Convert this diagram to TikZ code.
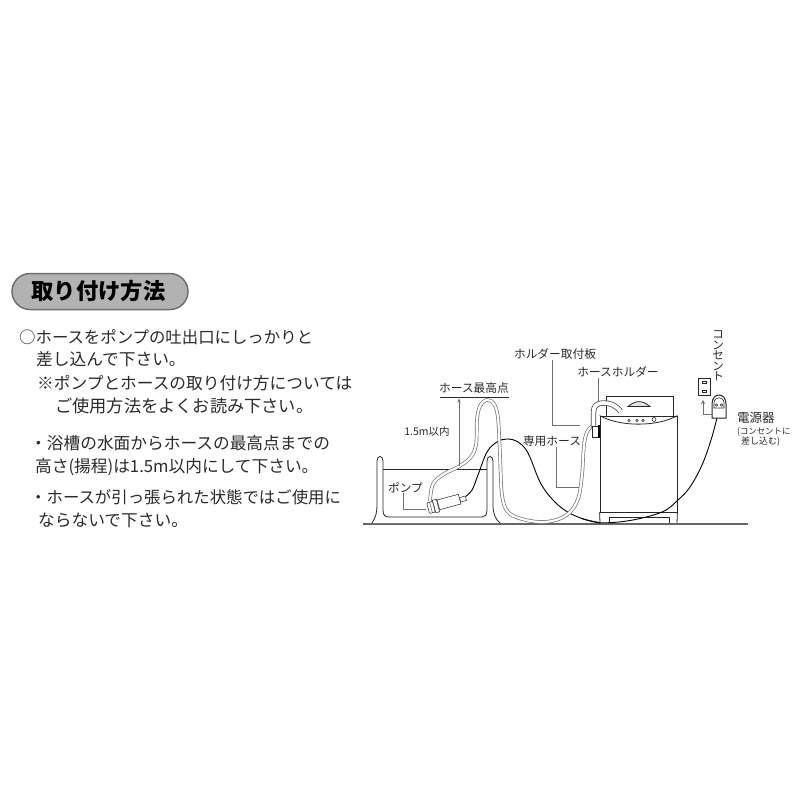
\documentclass[tikz,border=0pt]{standalone}
\usepackage{fontspec}
\setmainfont{Noto Sans CJK JP}
\usetikzlibrary{arrows.meta}
\definecolor{inkdark}{HTML}{2A2A2A}
\definecolor{leadgray}{HTML}{707070}
\tikzstyle{titlepill} = [draw=leadgray, fill=black!30, line width=1.5pt, rectangle,
    rounded corners=18pt, minimum width=176pt, minimum height=36pt]
\tikzstyle{bodyline} = [anchor=west, inner sep=0pt, text=inkdark, font=\fontsize{16.7}{17}\selectfont]
\tikzstyle{tag} = [inner sep=0pt, text=inkdark, font=\fontsize{11.7}{12}\selectfont]
\tikzstyle{leader} = [draw=leadgray, line width=0.7pt]
\tikzstyle{outline} = [draw=black!85, line width=0.8pt]
\tikzstyle{pumppart} = [draw=black!80, fill=white, line width=0.55pt, rotate=15, inner sep=0pt]
\tikzstyle{hoseout} = [draw=black!55, line width=3.6pt]
\tikzstyle{hosein} = [draw=white, line width=2.2pt]
\tikzstyle{cord} = [draw=black, line width=0.9pt]
\def\hosepath{plot[smooth, tension=0.6] coordinates {(430,501) (433,484) (444,474) (458,467) (470,458)
    (476,445) (477,420) (480,406) (487,400) (494,404) (498,418) (500,455) (502,495) (508,512)
    (522,519) (540,522) (556,520) (569,513) (578,499) (582,475) (584,445) (587,432) (592,426)}}
\def\tubepath{(593.5,428) -- (593.5,412) .. controls (593.5,406) and (597,403) .. (603,403)
    .. controls (610,403) and (616,405) .. (620.5,411.5)}
\begin{document}
\begin{tikzpicture}[x=1pt, y=-1pt]
    \useasboundingbox[fill=white] (0,0) rectangle (800,800);
    % heading and text on the left
    \node [titlepill] (title) at (100,291.5) {};
    \node [font=\fontsize{22.3}{23}\selectfont\bfseries, text=black, inner sep=0pt] (titletext) at (98.5,291) {取り付け方法};
    \node [bodyline, font=\fontsize{16.4}{17}\selectfont] (line1) at (19,337) {○ホースをポンプの吐出口にしっかりと};
    \node [bodyline] (line2) at (36,359.5) {差し込んで下さい。};
    \node [bodyline] (line3) at (37,383) {※ポンプとホースの取り付け方については};
    \node [bodyline, font=\fontsize{17.2}{18}\selectfont] (line4) at (55,405.5) {ご使用方法をよくお読み下さい。};
    \node [bodyline] (line5) at (30,443) {・浴槽の水面からホースの最高点までの};
    \node [bodyline] (line6) at (35,467) {高さ(揚程)は1.5m以内にして下さい。};
    \node [bodyline, font=\fontsize{16.4}{17}\selectfont] (line7) at (30,497) {・ホースが引っ張られた状態ではご使用に};
    \node [bodyline] (line8) at (38,520) {ならないで下さい。};
    % floor and tub
    \draw [draw=black!60, line width=2pt] (363,523.7) -- (748,523.7);
    \draw [outline, fill=white] (372,523) .. controls (376,517) and (377,512) .. (377,505) -- (377,461)
        .. controls (377,455) and (383,455) .. (383,461) -- (383,510)
        .. controls (383,515) and (385,517) .. (389,517) -- (482,517)
        .. controls (485,517) and (487,515) .. (487,510) -- (487,461)
        .. controls (487,455) and (493,455) .. (493,461) -- (493,505)
        .. controls (493,513) and (495,519) .. (500,523);
    \draw [outline] (383,469) -- (487,469);
    % power cord
    \draw [cord] plot[smooth, tension=0.6] coordinates {(465,497) (472,490) (478,475) (487,452) (497,442)
        (507,439) (518,442) (528,453) (540,482) (552,499) (566,511) (582,518.5) (600,522.7)};
    % hose
    \draw [hoseout] \hosepath;
    \draw [hosein] \hosepath;
    % pump
    \node [pumppart, minimum width=6pt, minimum height=4.5pt] (pumpneck) at (463,499) {};
    \node [pumppart, minimum width=22pt, minimum height=10pt] (pumpbody) at (449,502) {};
    \node [pumppart, minimum width=4pt, minimum height=13pt] (pumpcap) at (436,506) {};
    \node [pumppart, minimum width=6pt, minimum height=11pt, rounded corners=1pt] (pumphead) at (431,507.5) {};
    \draw [draw=black!80, line width=0.4pt] (pumphead.north) -- (pumphead.south);
    % washing machine
    \draw [outline, fill=white] (606,416) -- (606,396) -- (673,396) -- (673,416);
    \draw [outline, fill=black!10] (628,406.5) .. controls (636,400) and (642,400) .. (650,406.5) -- cycle;
    \node [outline, fill=white, minimum width=77pt, minimum height=96pt, inner sep=0pt] (washer) at (638.5,464) {};
    \draw [outline] (washer.north west) .. controls (620,427) and (657,427) .. (washer.north east);
    \draw [outline] (washer.south west) -- (600,523) (washer.south east) -- (677,523);
    \draw [outline] (609,523) -- (609,517) -- (669,517) -- (669,523);
    \draw [cord] plot[smooth, tension=0.6] coordinates {(582,518.5) (600,522.7) (630,520.5) (662,512) (678,500)
        (690,487) (702,465) (711,440) (717,418)};
    \foreach \x in {629,637,643}
        \draw [outline, line width=0.5pt] (\x,420.5) circle (1.3);
    \draw [outline, line width=0.6pt] (654,419.5) circle (2);
    % hose holder on the plate
    \draw [draw=black!70, line width=5.4pt] \tubepath;
    \draw [draw=white, line width=3.8pt] \tubepath;
    \node [outline, fill=white, minimum width=6pt, minimum height=11pt, inner sep=0pt] (holder) at (595,431.5) {};
    \node [fill=black, minimum width=2pt, minimum height=13pt, inner sep=0pt] (plate) at (599,431.5) {};
    % outlet and adapter
    \node [outline, fill=white, line width=1pt, minimum width=12pt, minimum height=17pt, inner sep=0pt] (outlet) at (704,386.5) {};
    \foreach \y in {382,391}
        \draw [outline, line width=0.6pt] (702,\y-1) rectangle (706.5,\y+1);
    \draw [outline, fill=white, line width=1pt] (712,418) -- (712,404) .. controls (712,392) and (726,392) .. (726,404) -- (726,418) -- cycle;
    \coordinate (adapterside) at (712,414);
    \draw [outline, line width=0.6pt] (714,408) -- (714,403) .. controls (714,396) and (724,396) .. (724,403) -- (724,408) -- cycle;
    \foreach \x in {716.5,721.5}
        \draw [outline, line width=0.5pt] (\x,405) circle (1.2);
    \draw [leader, -{Stealth[length=4pt,width=4pt]}] (adapterside) -| (703,400);
    % labels and leaders
    \node [tag] (holdplate) at (555,354) {ホルダー取付板};
    \node [tag] (holderlabel) at (618,372) {ホースホルダー};
    \node [tag] (toplabel) at (474,388) {ホース最高点};
    \node [tag, font=\fontsize{10.5}{11}\selectfont] (heightlabel) at (427,432) {1.5m以内};
    \node [tag] (hoselabel) at (552,441) {専用ホース};
    \node [tag] (pumplabel) at (405.5,488) {ポンプ};
    \node [tag, align=center, font=\fontsize{11.5}{10.6}\selectfont] (outletlabel) at (718,356) {コ\\ン\\セ\\ン\\ト};
    \node [tag, anchor=west, font=\fontsize{12.5}{13}\selectfont] (adapterlabel) at (737,418) {電源器};
    \node [tag, anchor=west, font=\fontsize{8.4}{9}\selectfont] (notea) at (737,432) {(コンセントに};
    \node [tag, anchor=west, font=\fontsize{9}{10}\selectfont] (noteb) at (741,442) {差し込む)};
    \draw [draw=inkdark, line width=0.7pt] (440,397) -- (509,397);
    \coordinate (toparrow) at (459,398.5);
    \coordinate (watermark) at (459,466);
    \draw [leader, -{Stealth[length=4pt,width=3.5pt]}] (watermark) -- (toparrow);
    \draw [leader] (holdplate.south -| 552,0) -- (552,425) -- (580,425);
    \draw [leader] (holderlabel.south -| 598,0) -- (598,402);
    \draw [leader] (hoselabel.south -| 556,0) -- (556,487) -- (579,487);
    \draw [leader] (pumplabel.south -| 403,0) -- (403,509) -- (426,509);
\end{tikzpicture}
\end{document}
